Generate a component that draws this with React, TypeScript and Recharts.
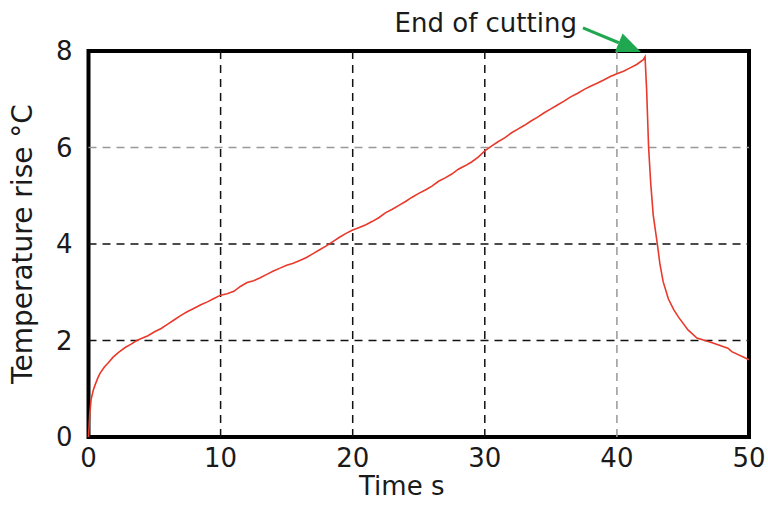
import { LineChart, Line, XAxis, YAxis, ReferenceLine, ReferenceArea, Label } from 'recharts'

// measured temperature rise during cutting and cool-down
const TIME_S = [
  0, 0.1, 0.2, 0.36, 0.5, 0.7, 0.87, 1.2, 1.5, 1.88, 2.3, 2.8, 3.2, 3.65, 4, 4.5, 5, 5.5, 6, 6.5, 7, 7.5, 8, 8.5, 9, 9.5,
  10, 10.5, 11, 11.5, 12, 12.5, 13, 13.5, 14, 14.5, 15, 15.5, 16, 16.5, 17, 17.5, 18, 18.5, 19, 19.5,
  20, 20.5, 21, 21.5, 22, 22.5, 23, 23.5, 24, 24.5, 25, 25.5, 26, 26.5, 27, 27.5, 28, 28.5, 29, 29.5,
  30, 30.5, 31, 31.5, 32, 32.5, 33, 33.5, 34, 34.5, 35, 35.5, 36, 36.5, 37, 37.5, 38, 38.5, 39, 39.5,
  40, 40.5, 41, 41.5, 42, 42.13, 42.25, 42.4, 42.56, 42.75, 43.06, 43.25, 43.5, 43.9, 44.3, 44.65, 45.38, 46.06,
  47.27, 48.4, 48.7, 50,
]
const TEMP_RISE = [
  0, 0.5, 0.78, 0.97, 1.08, 1.22, 1.32, 1.45, 1.54, 1.66, 1.76, 1.86, 1.92, 2.0, 2.04, 2.1, 2.18, 2.25, 2.34, 2.43, 2.52, 2.6, 2.67, 2.74, 2.8, 2.87,
  2.94, 2.97, 3.02, 3.12, 3.2, 3.24, 3.3, 3.37, 3.44, 3.5, 3.56, 3.6, 3.66, 3.72, 3.8, 3.88, 3.96, 4.05, 4.14, 4.22,
  4.29, 4.34, 4.4, 4.47, 4.55, 4.65, 4.72, 4.8, 4.88, 4.97, 5.05, 5.12, 5.2, 5.3, 5.37, 5.45, 5.55, 5.62, 5.7, 5.8,
  5.93, 6.03, 6.12, 6.2, 6.3, 6.38, 6.46, 6.55, 6.63, 6.72, 6.8, 6.88, 6.96, 7.05, 7.12, 7.2, 7.27, 7.33, 7.4, 7.47,
  7.53, 7.58, 7.65, 7.72, 7.82, 7.88, 7.2, 6.0, 5.26, 4.6, 4.0, 3.6, 3.22, 2.86, 2.64, 2.49, 2.22, 2.05,
  1.95, 1.84, 1.77, 1.6,
]

const X_TICKS = [0, 10, 20, 30, 40, 50]
const Y_TICKS = [0, 2, 4, 6, 8]
const X_GRID_DARK = [10, 20, 30]
const X_GRID_LIGHT = [40]
const Y_GRID_DARK = [2, 4]
const Y_GRID_LIGHT = [6]

const ARROW_FROM = { x: 37.43, y: 8.48 }
const ARROW_TO = { x: 41.82, y: 7.98 }

const data = TIME_S.map((t, i) => ({ t, v: TEMP_RISE[i] }))

const FONT = '"DejaVu Sans", Verdana, sans-serif'
const GREEN = '#1fa84f'

function EndArrow(props: any) {
  const { x1, y1, x2, y2 } = props
  const ang = Math.atan2(y2 - y1, x2 - x1)
  const len = 24
  const half = 10
  const bx = x2 - len * Math.cos(ang)
  const by = y2 - len * Math.sin(ang)
  const px = -Math.sin(ang) * half
  const py = Math.cos(ang) * half
  return (
    <g>
      <text x={x1 - 6} y={y1 + 4} textAnchor="end" fontFamily={FONT} fontSize={26} fill="#1a1a1a">
        End of cutting
      </text>
      <line x1={x1} y1={y1} x2={bx} y2={by} stroke={GREEN} strokeWidth={3} />
      <polygon points={`${x2},${y2} ${bx + px},${by + py} ${bx - px},${by - py}`} fill={GREEN} />
    </g>
  )
}

export default function App() {
  const tick = { fontSize: 26, fontFamily: FONT, fill: '#1a1a1a' }
  return (
    <div style={{ position: 'absolute', left: 0, top: 0, background: '#fff' }}>
      <LineChart width={768} height={506} data={data} margin={{ top: 51, right: 19, bottom: 9, left: 28.5 }}>
        <XAxis
          dataKey="t"
          type="number"
          domain={[0, 50]}
          ticks={X_TICKS}
          axisLine={false}
          tickLine={false}
          tick={tick}
          tickMargin={6}
          height={60}
          interval={0}
        >
          <Label value="Time s" position="insideBottom" offset={2} dx={-17} style={{ fontSize: 26, fontFamily: FONT, fill: '#1a1a1a' }} />
        </XAxis>
        <YAxis
          type="number"
          domain={[0, 8]}
          ticks={Y_TICKS}
          axisLine={false}
          tickLine={false}
          tick={tick}
          tickMargin={10}
          width={60}
          interval={0}
        >
          <Label
            value="Temperature rise °C"
            angle={-90}
            position="insideLeft"
            offset={0}
            dx={-6}
            style={{ textAnchor: 'middle', fontSize: 28, fontFamily: FONT, fill: '#1a1a1a' }}
          />
        </YAxis>

        {X_GRID_DARK.map((x) => (
          <ReferenceLine key={'xd' + x} x={x} stroke="#111" strokeWidth={1.5} strokeDasharray="8 6" />
        ))}
        {X_GRID_LIGHT.map((x) => (
          <ReferenceLine key={'xl' + x} x={x} stroke="#999" strokeWidth={1.5} strokeDasharray="8 6" />
        ))}
        {Y_GRID_DARK.map((y) => (
          <ReferenceLine key={'yd' + y} y={y} stroke="#111" strokeWidth={1.5} strokeDasharray="8 6" />
        ))}
        {Y_GRID_LIGHT.map((y) => (
          <ReferenceLine key={'yl' + y} y={y} stroke="#999" strokeWidth={1.5} strokeDasharray="8 6" />
        ))}

        <Line type="linear" dataKey="v" stroke="#e8392b" strokeWidth={1.6} dot={false} isAnimationActive={false} />

        <ReferenceArea x1={0} x2={50} y1={0} y2={8} fill="none" stroke="#000" strokeWidth={4} ifOverflow="visible" />
        <ReferenceLine segment={[ARROW_FROM, ARROW_TO]} ifOverflow="visible" shape={EndArrow} />
      </LineChart>
    </div>
  )
}
